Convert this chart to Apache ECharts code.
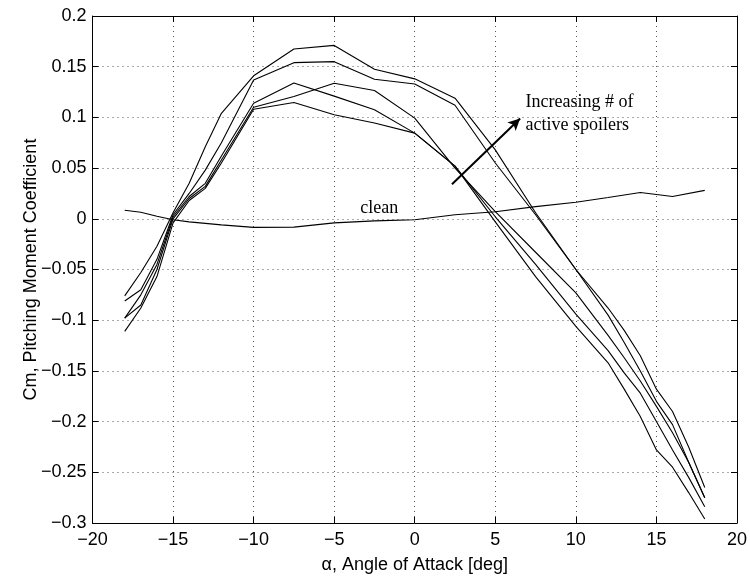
<!DOCTYPE html>
<html>
<head>
<meta charset="utf-8">
<script src="https://cdn.jsdelivr.net/npm/echarts@6/dist/echarts.min.js"></script>
<style>html,body{margin:0;padding:0;background:#fff}#c{width:750px;height:579px}</style>
</head>
<body>
<div id="c"></div>
<script>
// Angle of attack sample points (deg)
var alphaSpoil = [-18,-17,-16,-15,-14,-13,-12,-10,-7.5,-5,-2.5,0,2.5,5,7.5,10,12,13,14,15,16,17,18];
var spoilA = [-0.076,-0.053,-0.027,0.006,0.035,0.071,0.104,0.141,0.1675,0.171,0.1475,0.138,0.119,0.068,0.006,-0.05,-0.088,-0.11,-0.135,-0.168,-0.19,-0.225,-0.265];
var spoilB = [-0.081,-0.07,-0.04,0.004,0.025,0.048,0.075,0.137,0.154,0.155,0.1377,0.133,0.112,0.055,0.004,-0.05,-0.095,-0.122,-0.15,-0.18,-0.203,-0.24,-0.275];
var spoilC = [-0.098,-0.075,-0.045,0.002,0.022,0.035,0.062,0.114,0.134,0.121,0.1075,0.0845,0.052,0.002,-0.045,-0.094,-0.13,-0.152,-0.172,-0.2,-0.228,-0.255,-0.284];
var spoilD = [-0.098,-0.085,-0.05,0.0,0.02,0.032,0.058,0.110,0.1206,0.1337,0.1265,0.0993,0.050,0.007,-0.033,-0.073,-0.115,-0.137,-0.16,-0.185,-0.211,-0.24,-0.275];
var spoilE = [-0.111,-0.088,-0.057,-0.004,0.018,0.03,0.055,0.108,0.1147,0.1026,0.0944,0.0845,0.052,-0.003,-0.057,-0.106,-0.142,-0.168,-0.195,-0.228,-0.245,-0.27,-0.296];
var alphaClean = [-18,-17,-16,-15,-14,-12,-10,-7.5,-5,-2.5,0,2.5,5,7.5,10,12,14,16,18];
var cleanCm = [0.0084,0.0064,0.0025,-0.001,-0.003,-0.006,-0.0085,-0.0082,-0.004,-0.002,-0.001,0.004,0.007,0.012,0.0163,0.021,0.026,0.022,0.028];
// annotation anchors (data coords)
var arrowStart = [2.31, 0.034];
var arrowEnd = [6.54, 0.099];
var noteText = 'Increasing # of\nactive spoilers';
var notePos = [6.87, 0.1035];
var cleanText = 'clean';
var cleanPos = [-2.2, 0.010];

function pairs(xs, ys){ return xs.map(function(x,i){ return [x, ys[i]]; }); }
function fmt(v){ var s = String(+v.toFixed(2)); return s.replace('-', '\u2212'); }

var chart = echarts.init(document.getElementById('c'), null, {renderer:'canvas'});
var axisFont = 'Liberation Sans, Arial, Helvetica, sans-serif';
var lineStyleBlack = {color:'#000', width:1};
var tickStyle = {inside:true, length:6, lineStyle:{color:'#000', width:1}};
var gridLine = {show:true, lineStyle:{color:'#555', width:1, type:[1,4]}};

function spoilSeries(ys){
  return {type:'line', data:pairs(alphaSpoil, ys), showSymbol:false, symbol:'none',
    lineStyle:{color:'#000', width:1.1}, silent:true, animation:false, z:3};
}

var option = {
  animation:false,
  backgroundColor:'#fff',
  grid:{left:92.5, right:11, top:16, bottom:55, containLabel:false},
  xAxis:[{
    type:'value', min:-20, max:20, interval:5, position:'bottom',
    axisLine:{onZero:false, lineStyle:lineStyleBlack}, axisTick:tickStyle,
    axisLabel:{color:'#000', fontSize:18, fontFamily:axisFont, margin:8, formatter:fmt},
    splitLine:gridLine,
    name:'\u03b1, Angle of Attack [deg]', nameLocation:'middle', nameGap:33, nameMoveOverlap:false,
    nameTextStyle:{color:'#000', fontSize:18, fontFamily:axisFont}
  },{
    type:'value', min:-20, max:20, interval:5, position:'top',
    axisLine:{onZero:false, lineStyle:lineStyleBlack}, axisTick:tickStyle,
    axisLabel:{show:false}, splitLine:{show:false}
  }],
  yAxis:[{
    type:'value', min:-0.3, max:0.2, interval:0.05, position:'left',
    axisLine:{onZero:false, show:true, lineStyle:lineStyleBlack}, axisTick:{show:true, inside:true, length:6, lineStyle:{color:'#000'}},
    axisLabel:{color:'#000', fontSize:18, fontFamily:axisFont, margin:6, formatter:fmt},
    splitLine:gridLine,
    name:'Cm, Pitching Moment Coefficient', nameLocation:'middle', nameGap:52, nameRotate:90, nameMoveOverlap:false,
    nameTextStyle:{color:'#000', fontSize:18, fontFamily:axisFont}
  },{
    type:'value', min:-0.3, max:0.2, interval:0.05, position:'right',
    axisLine:{onZero:false, show:true, lineStyle:lineStyleBlack}, axisTick:{show:true, inside:true, length:6, lineStyle:{color:'#000'}},
    axisLabel:{show:false}, splitLine:{show:false}
  }],
  series:[
    spoilSeries(spoilA), spoilSeries(spoilB), spoilSeries(spoilC), spoilSeries(spoilD), spoilSeries(spoilE),
    {type:'line', data:pairs(alphaClean, cleanCm), showSymbol:false, symbol:'none',
     lineStyle:{color:'#000', width:1.1}, silent:true, animation:false, z:3,
     markLine:{silent:true, animation:false, symbol:['none','arrow'], symbolSize:[9,12],
       label:{show:false}, lineStyle:{color:'#000', width:2, type:'solid'},
       data:[[{coord:arrowStart},{coord:arrowEnd}]]}}
  ]
};
chart.setOption(option);

var p1 = chart.convertToPixel({xAxisIndex:0, yAxisIndex:0}, notePos);
var p2 = chart.convertToPixel({xAxisIndex:0, yAxisIndex:0}, cleanPos);
chart.setOption({graphic:[
  {type:'text', left:p1[0], top:p1[1]-23, z:10, silent:true,
   style:{text:noteText, fill:'#000', font:'18px "Liberation Serif", "Times New Roman", serif', lineHeight:23}},
  {type:'text', x:p2[0], y:p2[1], z:10, silent:true,
   style:{text:cleanText, fill:'#000', font:'18px "Liberation Serif", "Times New Roman", serif', align:'center', verticalAlign:'middle'}}
]});
</script>
</body>
</html>
